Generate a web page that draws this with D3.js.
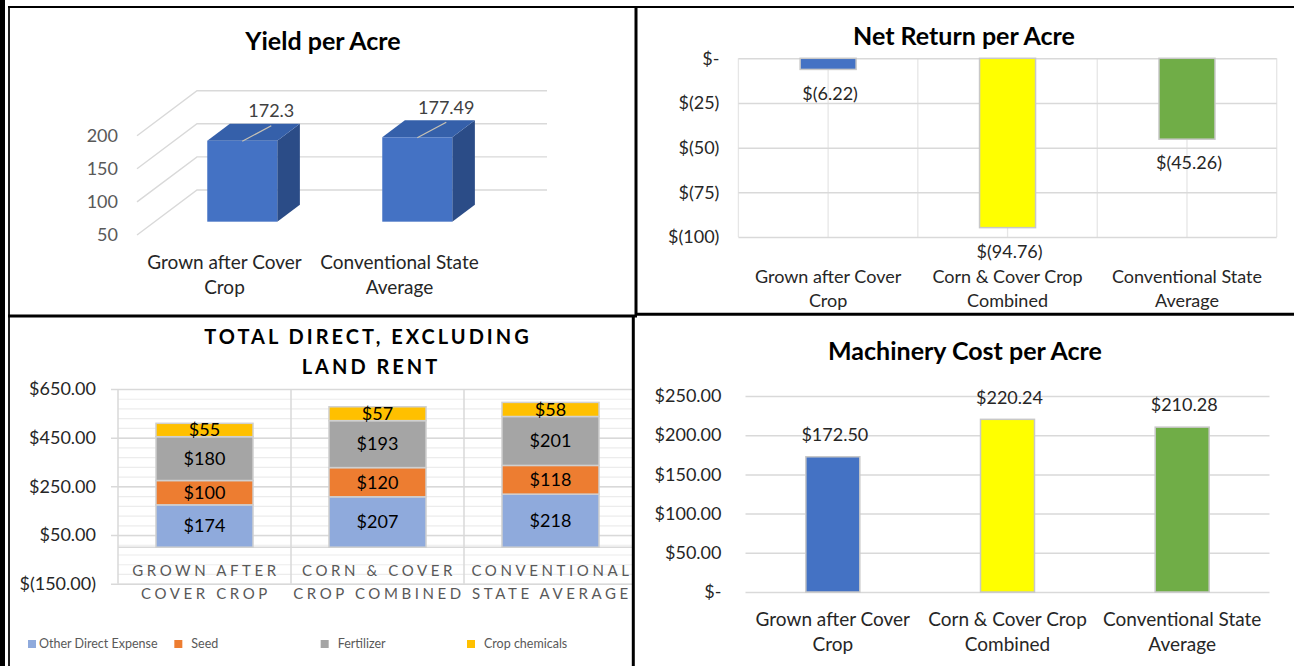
<!DOCTYPE html>
<html>
<head>
<meta charset="utf-8">
<script src="https://cdn.jsdelivr.net/npm/d3@7"></script>
<style>
  html, body { margin: 0; padding: 0; background: #fff; }
  svg { display: block; font-family: Lato, "Liberation Sans", sans-serif; }
</style>
</head>
<body>
<script>
// ---------------- DATA ----------------
const yieldCategories = ["Grown after Cover\nCrop", "Conventional State\nAverage"];
const yieldValues = [172.3, 177.49];
const yieldTicks = [50, 100, 150, 200];

const netCategories = ["Grown after Cover\nCrop", "Corn & Cover Crop\nCombined", "Conventional State\nAverage"];
const netValues = [-6.22, -94.76, -45.26];
const netTicks = [0, -25, -50, -75, -100];

const directCategories = ["GROWN AFTER\nCOVER CROP", "CORN & COVER\nCROP COMBINED", "CONVENTIONAL\nSTATE AVERAGE"];
const directSeriesNames = ["Other Direct Expense", "Seed", "Fertilizer", "Crop chemicals"];
const otherDirectExpense = [174, 207, 218];
const seed = [100, 120, 118];
const fertilizer = [180, 193, 201];
const cropChemicals = [55, 57, 58];
const directTicks = [650, 450, 250, 50, -150];

const machineryCategories = ["Grown after Cover\nCrop", "Corn & Cover Crop\nCombined", "Conventional State\nAverage"];
const machineryValues = [172.50, 220.24, 210.28];
const machineryTicks = [0, 50, 100, 150, 200, 250];

// ---------------- STYLES ----------------
const barColors3 = ["#4472C4", "#FFFF00", "#70AD47"];
const stackColors = ["#8FAADC", "#ED7D31", "#A5A5A5", "#FFC000"];
const gridColor = "#d9d9d9";

const W = 1294, H = 666;
const svg = d3.select("body").append("svg").attr("width", W).attr("height", H);
svg.append("rect").attr("width", W).attr("height", H).attr("fill", "#fff");

function multiLine(g, text, x, y0, lineH) {
  const t = g.append("text").attr("x", x).attr("text-anchor", "middle");
  text.split("\n").forEach((ln, i) => {
    t.append("tspan").attr("x", x).attr("y", y0 + i * lineH).attr("dy", "0.35em").text(ln);
  });
  return t;
}
function title(g, text, x, y) {
  return g.append("text").attr("x", x).attr("y", y).attr("dy", "0.35em").attr("text-anchor", "middle")
    .attr("font-weight", "bold").attr("font-size", 25).attr("fill", "#000").text(text);
}

// ================= PANEL A : Yield per Acre (3D) =================
(function () {
  const g = svg.append("g");
  title(g, "Yield per Acre", 323, 41);

  const yBack = d3.scaleLinear().domain([50, 200]).range([190, 90.7]);
  const depthX = 60, depthY = 45;           // floor depth vector
  const backLeft = 197, backRight = 547;
  const x = d3.scaleBand().domain(yieldCategories).range([backLeft - depthX, backRight - depthX])
    .paddingInner(0.6).paddingOuter(0.3);
  const d0 = 0.296, d1 = 0.673;             // bar front/back depth fractions

  const grid = g.append("g").attr("stroke", gridColor).attr("stroke-width", 1.4).attr("fill", "none");
  yieldTicks.forEach(v => {
    grid.append("path").attr("d",
      `M${backLeft - depthX},${yBack(v) + depthY} L${backLeft},${yBack(v)} L${backRight},${yBack(v)}`);
  });
  const yFront = yBack.copy().range(yBack.range().map(r => r + depthY));
  const ax = g.append("g").attr("transform", `translate(${backLeft - depthX},0)`)
    .call(d3.axisLeft(yFront).tickValues(yieldTicks).tickSize(0).tickPadding(19));
  ax.select(".domain").remove();
  ax.selectAll("text").attr("font-family", "Lato, sans-serif").attr("font-size", 18).attr("fill", "#595959");

  const bw = x.bandwidth();
  const dx = depthX * (d1 - d0), dy = depthY * (d1 - d0);
  yieldCategories.forEach((c, i) => {
    const v = yieldValues[i];
    const x0 = x(c) + depthX * d0;
    const yTop = yFront(v) - depthY * d0;
    const yBot = yFront(50) - depthY * d0;
    g.append("path").attr("fill", "#2B4C87")
      .attr("d", `M${x0 + bw},${yTop} L${x0 + bw + dx},${yTop - dy} L${x0 + bw + dx},${yBot - dy} L${x0 + bw},${yBot}Z`);
    g.append("path").attr("fill", "#3560AA")
      .attr("d", `M${x0},${yTop} L${x0 + bw},${yTop} L${x0 + bw + dx},${yTop - dy} L${x0 + dx},${yTop - dy}Z`);
    g.append("rect").attr("x", x0).attr("y", yTop).attr("width", bw).attr("height", yBot - yTop).attr("fill", "#4472C4");
    const cx = x0 + bw / 2;
    g.append("line").attr("x1", cx).attr("y1", yTop + 0.5).attr("x2", cx + 29).attr("y2", yTop - 15)
      .attr("stroke", "#c8c2b4").attr("stroke-width", 1.3);
    g.append("text").attr("x", cx + 29).attr("y", yTop - 30).attr("dy", "0.35em").attr("text-anchor", "middle")
      .attr("font-size", 18).attr("fill", "#404040").text(d3.format(",")(v));
    multiLine(g, c, x(c) + bw / 2, 262, 25).attr("font-size", 19).attr("fill", "#262626");
  });
})();

// ================= PANEL B : Net Return per Acre =================
(function () {
  const g = svg.append("g");
  title(g, "Net Return per Acre", 964, 36);

  const left = 738.4, right = 1276.7;
  const y = d3.scaleLinear().domain([0, -100]).range([58.3, 237]);
  const x = d3.scaleBand().domain(netCategories).range([left, right]).paddingInner(0.688).paddingOuter(0.344);
  const step = x.step();

  d3.range(0, netCategories.length * 2 + 1).forEach(k => {
    g.append("line").attr("x1", left + k * step / 2).attr("x2", left + k * step / 2)
      .attr("y1", y(0)).attr("y2", y(-100)).attr("stroke", "#e6e6e6").attr("stroke-width", 1.3);
  });
  const ax = g.append("g").attr("transform", `translate(${left},0)`)
    .call(d3.axisLeft(y).tickValues(netTicks).tickSize(-(right - left)).tickPadding(19)
      .tickFormat(v => v === 0 ? "$-" : "$(" + (-v) + ")"));
  ax.select(".domain").remove();
  ax.selectAll("line").attr("stroke", gridColor).attr("stroke-width", 1.5);
  ax.selectAll("text").attr("font-family", "Lato, sans-serif").attr("font-size", 18).attr("fill", "#262626");

  const fmt = v => "$(" + d3.format(".2f")(-v) + ")";
  netCategories.forEach((c, i) => {
    const v = netValues[i];
    g.append("rect").attr("x", x(c)).attr("y", y(0)).attr("width", x.bandwidth()).attr("height", y(v) - y(0))
      .attr("fill", barColors3[i]).attr("stroke", "#c8c8c8").attr("stroke-width", 1.5);
    g.append("text").attr("x", x(c) + x.bandwidth() / 2 + 2).attr("y", y(v) + 24).attr("dy", "0.35em")
      .attr("text-anchor", "middle").attr("font-size", 18).attr("fill", "#262626").text(fmt(v));
    multiLine(g, c, x(c) + x.bandwidth() / 2, 277, 23.5).attr("font-size", 18).attr("fill", "#262626");
  });
})();

// ================= PANEL C : Total Direct (stacked) =================
(function () {
  const g = svg.append("g");
  const t = g.append("text").attr("text-anchor", "middle").attr("font-weight", "bold")
    .attr("font-size", 20).attr("letter-spacing", 3).attr("fill", "#000");
  t.append("tspan").attr("x", 368).attr("y", 337).attr("dy", "0.35em").text("TOTAL DIRECT, EXCLUDING");
  t.append("tspan").attr("x", 371).attr("y", 367).attr("dy", "0.35em").text("LAND RENT");

  const left = 118, right = 637, clipRight = 632;
  const y = d3.scaleLinear().domain([-150, 650]).range([583.7, 389]);
  const x = d3.scaleBand().domain(directCategories).range([left, right]).paddingInner(0.439).paddingOuter(0.2195);

  const minor = g.append("g").attr("transform", `translate(${left},0)`)
    .call(d3.axisLeft(y).tickValues(d3.range(-150, 651, 40)).tickSize(-(clipRight - left)).tickFormat(""));
  minor.select(".domain").remove();
  minor.selectAll("line").attr("stroke", "#ececec").attr("stroke-width", 1.2);
  const major = g.append("g").attr("transform", `translate(${left - 7},0)`)
    .call(d3.axisLeft(y).tickValues(directTicks).tickSize(-(clipRight - left + 7)).tickPadding(15)
      .tickFormat(v => v < 0 ? "$(" + d3.format(".2f")(-v) + ")" : "$" + d3.format(".2f")(v)));
  major.select(".domain").remove();
  major.selectAll("line").attr("stroke", gridColor).attr("stroke-width", 1.5);
  major.selectAll("text").attr("font-family", "Lato, sans-serif").attr("font-size", 18).attr("fill", "#262626");
  g.append("line").attr("x1", left).attr("x2", clipRight).attr("y1", y(0)).attr("y2", y(0))
    .attr("stroke", gridColor).attr("stroke-width", 1.5);
  d3.range(0, directCategories.length + 1).forEach(k => {
    const xx = left + k * x.step();
    if (xx > clipRight) return;
    g.append("line").attr("x1", xx).attr("x2", xx).attr("y1", y(650)).attr("y2", y(-150))
      .attr("stroke", gridColor).attr("stroke-width", 1.5);
  });

  const seriesVals = [otherDirectExpense, seed, fertilizer, cropChemicals];
  const rows = directCategories.map((c, i) => {
    const r = { cat: c };
    directSeriesNames.forEach((s, j) => r[s] = seriesVals[j][i]);
    return r;
  });
  const stacked = d3.stack().keys(directSeriesNames)(rows);
  stacked.forEach((layer, j) => {
    layer.forEach(d => {
      const c = d.data.cat;
      g.append("rect").attr("x", x(c)).attr("y", y(d[1])).attr("width", x.bandwidth())
        .attr("height", y(d[0]) - y(d[1])).attr("fill", stackColors[j])
        .attr("stroke", "#d0d0d0").attr("stroke-width", 1.5);
    });
  });
  stacked.forEach((layer) => {
    layer.forEach(d => {
      const c = d.data.cat;
      g.append("text").attr("x", x(c) + x.bandwidth() / 2).attr("y", (y(d[0]) + y(d[1])) / 2)
        .attr("dy", "0.35em").attr("text-anchor", "middle").attr("font-size", 18).attr("fill", "#000")
        .text("$" + d3.format(".0f")(d[1] - d[0]));
    });
  });
  directCategories.forEach(c => {
    multiLine(g, c, x(c) + x.bandwidth() / 2 + 1.5, 571, 23).attr("font-size", 15)
      .attr("letter-spacing", 3.6).attr("fill", "#595959");
  });

  const lx = d3.scalePoint().domain(directSeriesNames).range([28, 467]);
  directSeriesNames.forEach((s, j) => {
    g.append("rect").attr("x", lx(s)).attr("y", 640).attr("width", 8).attr("height", 8).attr("fill", stackColors[j]);
    g.append("text").attr("x", lx(s) + (j === 0 ? 11 : 17)).attr("y", 644).attr("dy", "0.35em")
      .attr("font-size", 12.5).attr("fill", "#595959").text(s);
  });
})();

// ================= PANEL D : Machinery Cost per Acre =================
(function () {
  const g = svg.append("g");
  title(g, "Machinery Cost per Acre", 965, 351);

  const left = 745.5, right = 1269.5;
  const y = d3.scaleLinear().domain([0, 250]).range([592, 396]);
  const x = d3.scaleBand().domain(machineryCategories).range([left, right]).paddingInner(0.691).paddingOuter(0.3455);

  const ax = g.append("g").attr("transform", `translate(${left},0)`)
    .call(d3.axisLeft(y).tickValues(machineryTicks).tickSize(-(right - left)).tickPadding(24)
      .tickFormat(v => v === 0 ? "$-" : "$" + d3.format(".2f")(v)));
  ax.select(".domain").remove();
  ax.selectAll("line").attr("stroke", gridColor).attr("stroke-width", 1.5);
  ax.selectAll("text").attr("font-family", "Lato, sans-serif").attr("font-size", 18).attr("fill", "#262626");

  machineryCategories.forEach((c, i) => {
    const v = machineryValues[i];
    g.append("rect").attr("x", x(c)).attr("y", y(v)).attr("width", x.bandwidth()).attr("height", y(0) - y(v))
      .attr("fill", barColors3[i]).attr("stroke", "#c8c8c8").attr("stroke-width", 1.5);
    g.append("text").attr("x", x(c) + x.bandwidth() / 2 + 2).attr("y", y(v) - 22).attr("dy", "0.35em")
      .attr("text-anchor", "middle").attr("font-size", 18).attr("fill", "#262626").text("$" + d3.format(".2f")(v));
    multiLine(g, c, x(c) + x.bandwidth() / 2, 619, 25).attr("font-size", 19).attr("fill", "#262626");
  });
})();

// ================= BORDERS =================
(function () {
  const b = svg.append("g").attr("stroke", "#000");
  svg.append("rect").attr("x", 0).attr("y", 0).attr("width", 5).attr("height", H).attr("fill", "#000");
  b.append("line").attr("x1", 9).attr("x2", 9).attr("y1", 6).attr("y2", H).attr("stroke-width", 2).attr("stroke", "#222");
  b.append("line").attr("x1", 8).attr("x2", W).attr("y1", 7).attr("y2", 7).attr("stroke-width", 2);
  b.append("line").attr("x1", 636).attr("x2", 636).attr("y1", 6).attr("y2", 315).attr("stroke-width", 3);
  b.append("line").attr("x1", 8).attr("x2", 637).attr("y1", 316).attr("y2", 316).attr("stroke-width", 3);
  b.append("line").attr("x1", 635).attr("x2", W).attr("y1", 314.3).attr("y2", 314.3).attr("stroke-width", 3);
  b.append("line").attr("x1", 633.3).attr("x2", 633.3).attr("y1", 315).attr("y2", H).attr("stroke-width", 3);
})();
</script>
</body>
</html>
